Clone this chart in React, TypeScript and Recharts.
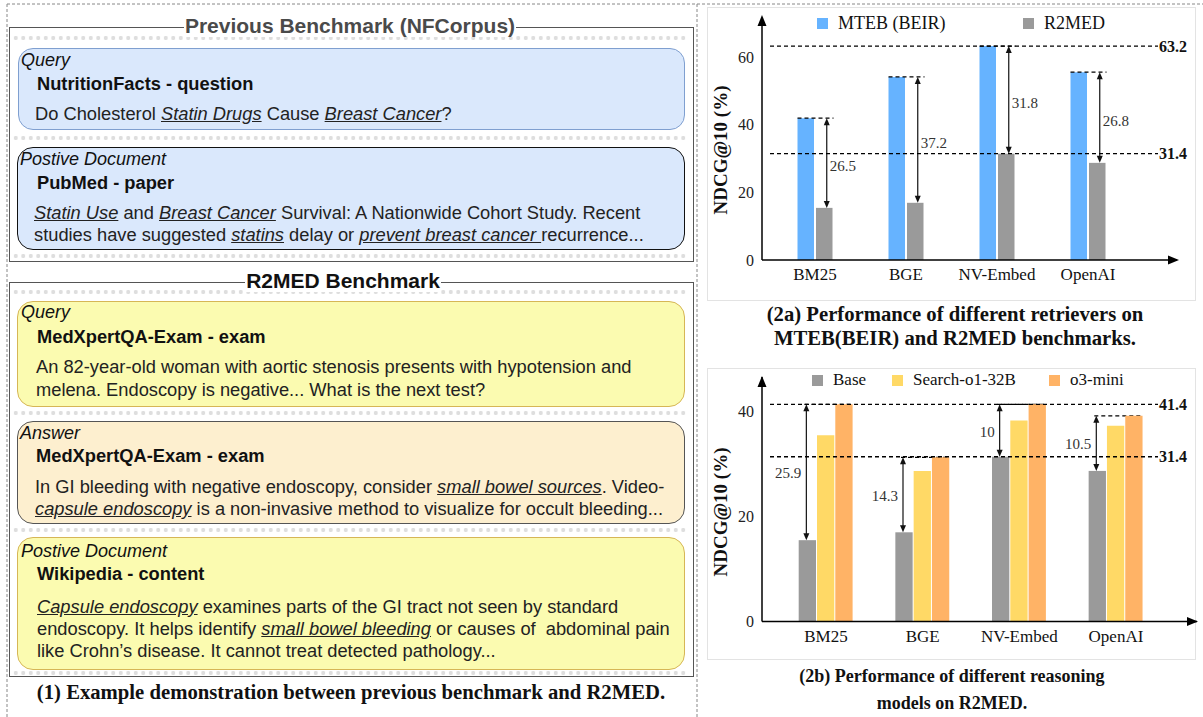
import React from 'react';
import { BarChart, Bar, XAxis, YAxis, ReferenceLine } from 'recharts';

// ---------- data ----------
const retrievers = ['BM25', 'BGE', 'NV-Embed', 'OpenAI'];
const mtebScores = [41.9, 54.1, 63.2, 55.5];
const r2medScores = [15.4, 16.9, 31.4, 28.7];
const gapLabelsA = ['26.5', '37.2', '31.8', '26.8'];
const refLinesA = [63.2, 31.4];
const yTicksA = [0, 20, 40, 60];

const baseScores = [15.5, 17.0, 31.4, 28.7];
const searchScores = [35.5, 28.7, 38.3, 37.3];
const o3Scores = [41.4, 31.3, 41.4, 39.2];
const gapLabelsB = ['25.9', '14.3', '10', '10.5'];
const refLinesB = [41.4, 31.4];
const yTicksB = [0, 20, 40];

const legendA = ['MTEB (BEIR)', 'R2MED'];
const legendB = ['Base', 'Search-o1-32B', 'o3-mini'];

// ---------- styles ----------
const SANS = "'Liberation Sans', Arial, sans-serif";
const SERIF = "'Liberation Serif', 'Times New Roman', serif";
const BLUE = '#66b3ff';
const GREY = '#9a9a9a';
const YELLOW = '#ffd966';
const ORANGE = '#ffb366';
const BAR_GAP_A = 2;
const BAR_GAP_B = 1;

const dataA = retrievers.map((name, i) => ({ name, mteb: mtebScores[i], r2med: r2medScores[i], gap: gapLabelsA[i] }));
const dataB = retrievers.map((name, i) => ({ name, base: baseScores[i], search: searchScores[i], o3: o3Scores[i], gap: gapLabelsB[i] }));

function DoubleArrow({ x, y1, y2 }: { x: number; y1: number; y2: number }) {
  const top = Math.min(y1, y2);
  const bot = Math.max(y1, y2);
  return (
    <g>
      <line x1={x} y1={top + 5} x2={x} y2={bot - 5} stroke="#111" strokeWidth={1.2} />
      <polygon points={`${x},${top} ${x - 3},${top + 7} ${x + 3},${top + 7}`} fill="#111" />
      <polygon points={`${x},${bot} ${x - 3},${bot - 7} ${x + 3},${bot - 7}`} fill="#111" />
    </g>
  );
}

function R2medShape(p: any) {
  const { x, y, width, height, payload, fill } = p;
  const k = height / payload.r2med;
  const bottom = y + height;
  const yTop = bottom - payload.mteb * k;
  const ax = x + width / 2 + 2.5;
  const left = x - width - BAR_GAP_A;
  return (
    <g>
      <rect x={x} y={y} width={width} height={height} fill={fill} />
      <line x1={left} y1={yTop} x2={x + width + 1} y2={yTop} stroke="#000" strokeWidth={1.3} strokeDasharray="4 3" />
      <DoubleArrow x={ax} y1={yTop} y2={y} />
      <text x={ax + 3} y={(yTop + y) / 2 + 3} dominantBaseline="central" fontFamily={SERIF} fontSize={15} fill="#333">
        {payload.gap}
      </text>
    </g>
  );
}

function BaseShape(p: any) {
  const { x, y, width, height, payload, fill } = p;
  const k = height / payload.base;
  const bottom = y + height;
  const yTop = bottom - payload.o3 * k;
  const ax = x + width / 2 - 1;
  const right = x + 3 * width + 2 * BAR_GAP_B;
  return (
    <g>
      <rect x={x} y={y} width={width} height={height} fill={fill} />
      <line x1={ax - 2} y1={yTop} x2={right} y2={yTop} stroke="#000" strokeWidth={1.3} strokeDasharray="4 3" />
      <DoubleArrow x={ax} y1={yTop} y2={y} />
      <text x={ax - 5} y={(yTop + y) / 2 + 1} textAnchor="end" dominantBaseline="central" fontFamily={SERIF} fontSize={15} fill="#333">
        {payload.gap}
      </text>
    </g>
  );
}

function makeRefShape(label: string, cutRight: number) {
  return (p: any) => {
    const { x1, y1, x2 } = p;
    const xs = x1 + 8;
    const xe = x2 - cutRight;
    return (
      <g>
        <line x1={xs} y1={y1} x2={xe} y2={y1} stroke="#000" strokeWidth={1.3} strokeDasharray="4 3" />
        <text x={xe + 1} y={y1} dominantBaseline="central" fontFamily={SERIF} fontWeight="bold" fontSize={16} fill="#111">
          {label}
        </text>
      </g>
    );
  };
}

const tickStyleY = { fontSize: 16, fill: '#222', fontFamily: SERIF };
const tickStyleX = { fontSize: 17, fill: '#111', fontFamily: SERIF };

function ChartA() {
  return (
    <BarChart width={495} height={300} data={dataA} margin={{ top: 18, right: 23, bottom: 10, left: 0 }} barGap={BAR_GAP_A}>
      <XAxis dataKey="name" height={30} axisLine={{ stroke: '#000', strokeWidth: 1.5 }} tickLine={false} tick={tickStyleX} padding={{ left: 7.5, right: 43.5 }} interval={0} />
      <YAxis width={57} domain={[0, 71.5]} ticks={yTicksA} axisLine={{ stroke: '#000', strokeWidth: 1.5 }} tickLine={false} tick={tickStyleY} />
      {refLinesA.map((v) => (
        <ReferenceLine key={v} y={v} stroke="#000" shape={makeRefShape(v.toFixed(1), 19)} />
      ))}
      <Bar dataKey="mteb" fill={BLUE} barSize={16.5} isAnimationActive={false} />
      <Bar dataKey="r2med" fill={GREY} barSize={16.5} isAnimationActive={false} shape={R2medShape} />
    </BarChart>
  );
}

function ChartB() {
  return (
    <BarChart width={495} height={300} data={dataB} margin={{ top: 17, right: 3, bottom: 8.5, left: 0 }} barGap={BAR_GAP_B}>
      <XAxis dataKey="name" height={30} axisLine={{ stroke: '#000', strokeWidth: 1.5 }} tickLine={false} tick={tickStyleX} padding={{ left: 15.7, right: 32.7 }} interval={0} />
      <YAxis width={57} domain={[0, 46.6]} ticks={yTicksB} axisLine={{ stroke: '#000', strokeWidth: 1.5 }} tickLine={false} tick={tickStyleY} />
      {refLinesB.map((v) => (
        <ReferenceLine key={v} y={v} stroke="#000" shape={makeRefShape(v.toFixed(1), 39)} />
      ))}
      <Bar dataKey="base" fill={GREY} barSize={17.3} isAnimationActive={false} shape={BaseShape} />
      <Bar dataKey="search" fill={YELLOW} barSize={17.3} isAnimationActive={false} />
      <Bar dataKey="o3" fill={ORANGE} barSize={17.3} isAnimationActive={false} />
    </BarChart>
  );
}

// ---------- left panel helpers ----------
function T({ x, cy, size = 18.3, weight = 400, italic = false, color = '#111', lh = 22, children }: any) {
  return (
    <div
      style={{
        position: 'absolute',
        left: x,
        top: cy - lh / 2,
        fontSize: size,
        lineHeight: lh + 'px',
        fontWeight: weight,
        fontStyle: italic ? 'italic' : 'normal',
        color,
        whiteSpace: 'pre',
        fontFamily: SANS,
      }}
    >
      {children}
    </div>
  );
}
const U = ({ children }: any) => <span style={{ fontStyle: 'italic', textDecoration: 'underline' }}>{children}</span>;

function Card({ left, top, width, height, bg, border, radius = 15 }: any) {
  return (
    <div
      style={{
        position: 'absolute',
        left,
        top,
        width,
        height,
        background: bg,
        border,
        borderRadius: radius,
        boxSizing: 'border-box',
      }}
    />
  );
}

function DotRow({ y }: { y: number }) {
  return (
    <div
      style={{
        position: 'absolute',
        left: 12,
        top: y - 3,
        width: 676,
        height: 6,
        backgroundImage: 'radial-gradient(circle at center, #dedede 1.8px, transparent 2.4px)',
        backgroundSize: '7.5px 6px',
      }}
    />
  );
}

function BoxTitle({ cx, cy, text, color }: any) {
  return (
    <div
      style={{
        position: 'absolute',
        left: cx - 250,
        width: 500,
        top: cy - 13,
        lineHeight: '26px',
        textAlign: 'center',
        fontFamily: SANS,
        fontWeight: 700,
        fontSize: 21,
        color,
      }}
    >
      <span style={{ background: '#fff', padding: '0 1px' }}>{text}</span>
    </div>
  );
}

function Legend({ items, colors, lefts, top, size }: any) {
  return (
    <>
      {items.map((t: string, i: number) => (
        <div key={t} style={{ position: 'absolute', left: lefts[i], top, display: 'flex', alignItems: 'center', fontFamily: SERIF, fontSize: size, color: '#111', whiteSpace: 'nowrap' }}>
          <span style={{ display: 'inline-block', width: 11, height: 11, background: colors[i], marginRight: 10 }} />
          {t}
        </div>
      ))}
    </>
  );
}

function Caption({ cx, cy, lines, size = 18, lh = 25 }: any) {
  return (
    <div
      style={{
        position: 'absolute',
        left: cx - 350,
        width: 700,
        top: cy - lh / 2,
        lineHeight: lh + 'px',
        textAlign: 'center',
        fontFamily: SERIF,
        fontWeight: 700,
        fontSize: size,
        color: '#111',
        whiteSpace: 'pre',
      }}
    >
      {lines.join('\n')}
    </div>
  );
}

export default function App() {
  return (
    <div style={{ position: 'absolute', left: 0, top: 0, width: 1203, height: 717, background: '#fff', overflow: 'hidden' }}>
      {/* ----- left panel ----- */}
      <div style={{ position: 'absolute', left: 9, top: 27, width: 685, height: 235, border: '1.5px solid #555', boxSizing: 'border-box' }} />
      <DotRow y={38} />
      <DotRow y={138} />
      <DotRow y={256} />
      <BoxTitle cx={350} cy={26} text="Previous Benchmark (NFCorpus)" color="#4a4a4a" />
      <Card left={18} top={48} width={667} height={82} bg="#dae8fc" border="1px solid #7f9fd0" />
      <T x={21} cy={60} size={18} italic>Query</T>
      <T x={37} cy={84} weight={700}>NutritionFacts - question</T>
      <T x={35} cy={114} color="#222">Do Cholesterol <U>Statin Drugs</U> Cause <U>Breast Cancer</U>?</T>
      <Card left={17} top={147} width={668} height={103} bg="#dae8fc" border="1.5px solid #111" radius={16} />
      <T x={20} cy={159} size={18} italic>Postive Document</T>
      <T x={37} cy={183} weight={700}>PubMed - paper</T>
      <T x={34} cy={213} color="#222"><U>Statin Use</U> and <U>Breast Cancer</U> Survival: A Nationwide Cohort Study. Recent</T>
      <T x={34} cy={235} color="#222">studies have suggested <U>statins</U> delay or <U>prevent breast cancer </U>recurrence...</T>

      <div style={{ position: 'absolute', left: 9, top: 282, width: 685, height: 395, border: '1.5px solid #555', boxSizing: 'border-box' }} />
      <DotRow y={292} />
      <DotRow y={413} />
      <DotRow y={530} />
      <DotRow y={673} />
      <BoxTitle cx={343} cy={281} text="R2MED Benchmark" color="#111" />
      <Card left={17} top={301} width={668} height={106} bg="#fbfbb0" border="1.2px solid #d6b656" radius={16} />
      <T x={21} cy={312} size={18} italic>Query</T>
      <T x={37} cy={337} weight={700}>MedXpertQA-Exam - exam</T>
      <T x={36} cy={367} color="#222">An 82-year-old woman with aortic stenosis presents with hypotension and</T>
      <T x={36} cy={390} color="#222">melena. Endoscopy is negative... What is the next test?</T>
      <Card left={17} top={421} width={668} height={103} bg="#fdefcf" border="1.2px solid #555" radius={16} />
      <T x={20} cy={433} size={18} italic>Answer</T>
      <T x={36} cy={456} weight={700}>MedXpertQA-Exam - exam</T>
      <T x={35} cy={487} color="#222">In GI bleeding with negative endoscopy, consider <U>small bowel sources</U>. Video-</T>
      <T x={35} cy={509} color="#222"><U>capsule endoscopy</U> is a non-invasive method to visualize for occult bleeding...</T>
      <Card left={17} top={537} width={668} height={133} bg="#fbfbb0" border="1.2px solid #d6b656" radius={16} />
      <T x={21} cy={551} size={18} italic>Postive Document</T>
      <T x={37} cy={574} weight={700}>Wikipedia - content</T>
      <T x={37} cy={607} color="#222"><U>Capsule endoscopy</U> examines parts of the GI tract not seen by standard</T>
      <T x={37} cy={629} color="#222">endoscopy. It helps identify <U>small bowel bleeding</U> or causes of  abdominal pain</T>
      <T x={37} cy={651} color="#222">like Crohn’s disease. It cannot treat detected pathology...</T>

      <Caption cx={351} cy={692} size={20.7} lines={['(1) Example demonstration between previous benchmark and R2MED.']} />

      {/* ----- right panels ----- */}
      <div style={{ position: 'absolute', left: 707, top: 7, width: 489, height: 294, border: '1px solid #e3e3e3', boxSizing: 'border-box' }} />
      <div style={{ position: 'absolute', left: 707, top: 368, width: 489, height: 292, border: '1px solid #e3e3e3', boxSizing: 'border-box' }} />

      <div style={{ position: 'absolute', left: 705, top: 0 }}>
        <ChartA />
      </div>
      <div style={{ position: 'absolute', left: 705, top: 360 }}>
        <ChartB />
      </div>

      <Legend items={legendA} colors={[BLUE, GREY]} lefts={[817, 1023]} top={13} size={18} />
      <Legend items={legendB} colors={[GREY, YELLOW, ORANGE]} lefts={[812, 892, 1049]} top={370} size={17} />

      <Caption cx={955} cy={314} size={20.7} lh={24} lines={['(2a) Performance of different retrievers on', 'MTEB(BEIR) and R2MED benchmarks.']} />
      <Caption cx={952} cy={676} size={18} lh={27} lines={['(2b) Performance of different reasoning', 'models on R2MED.']} />

      {/* ----- overlay: frame, axis arrows, axis titles ----- */}
      <svg width={1203} height={717} style={{ position: 'absolute', left: 0, top: 0, pointerEvents: 'none' }}>
        <line x1={7} y1={4} x2={1203} y2={4} stroke="#888" strokeWidth={1} strokeDasharray="3 2" />
        <line x1={7} y1={4} x2={7} y2={717} stroke="#888" strokeWidth={1} strokeDasharray="3 2" />
        <line x1={697} y1={4} x2={697} y2={717} stroke="#888" strokeWidth={1} strokeDasharray="3 2" />
        {/* 2a arrows */}
        <polygon points="762,15 757.5,26 766.5,26" fill="#000" />
        <polygon points="1179,260 1168,255.5 1168,264.5" fill="#000" />
        {/* 2b arrows */}
        <polygon points="762,376 757.5,387 766.5,387" fill="#000" />
        <polygon points="1198,621.5 1187,617 1187,626" fill="#000" />
        <text x={720} y={150} transform="rotate(-90 720 150)" textAnchor="middle" dominantBaseline="central" fontFamily={SERIF} fontWeight="bold" fontSize={19} fill="#111">
          NDCG@10 (%)
        </text>
        <text x={720} y={512} transform="rotate(-90 720 512)" textAnchor="middle" dominantBaseline="central" fontFamily={SERIF} fontWeight="bold" fontSize={19} fill="#111">
          NDCG@10 (%)
        </text>
      </svg>
    </div>
  );
}
